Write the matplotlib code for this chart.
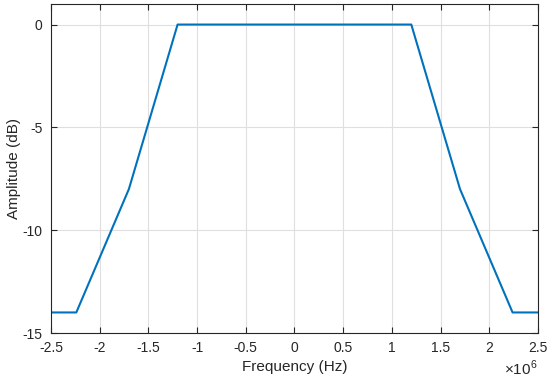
import matplotlib
matplotlib.use("Agg")
import matplotlib.pyplot as plt

freq = [-2.5e6, -2.24e6, -1.7e6, -1.2e6, 1.2e6, 1.7e6, 2.24e6, 2.5e6]
amp = [-14, -14, -8, 0, 0, -8, -14, -14]
xticks = [-2.5, -2, -1.5, -1, -0.5, 0, 0.5, 1, 1.5, 2, 2.5]
xticklabels = ["-2.5", "-2", "-1.5", "-1", "-0.5", "0", "0.5", "1", "1.5", "2", "2.5"]
yticks = [-15, -10, -5, 0]

plt.rcParams['font.family'] = ['Liberation Sans', 'DejaVu Sans']
plt.rcParams['mathtext.fontset'] = 'custom'
plt.rcParams['mathtext.rm'] = 'Liberation Sans'
fig = plt.figure(figsize=(5.5, 3.83), dpi=100)
ax = fig.add_axes([0.0927, 0.1305, 0.978 - 0.0927, 0.9896 - 0.1305])
ax.plot(freq, amp, color='#0072BD', lw=1.5)
ax.set_xlim(-2.5e6, 2.5e6)
ax.set_ylim(-15, 1)
ax.set_xticks([t * 1e6 for t in xticks])
ax.set_xticklabels(xticklabels)
ax.set_yticks(yticks)
ax.set_yticklabels([str(t) for t in yticks])
ax.grid(True, color='#dfdfdf', lw=0.8)
ax.set_axisbelow(True)
for s in ax.spines.values():
    s.set_color('#262626')
    s.set_linewidth(0.8)
ax.tick_params(direction='in', length=4, width=0.8, colors='#262626', labelsize=10, top=True, right=True, pad=6)
ax.set_xlabel('Frequency (Hz)', fontsize=11, color='#262626', labelpad=3)
ax.set_ylabel('Amplitude (dB)', fontsize=11, color='#262626', labelpad=1)
fig.text(0.978, 0.012, r'$\times$10$^{\mathregular{6}}$', ha='right', va='bottom', fontsize=11, color='#262626')
fig.savefig('out.png', dpi=100)
